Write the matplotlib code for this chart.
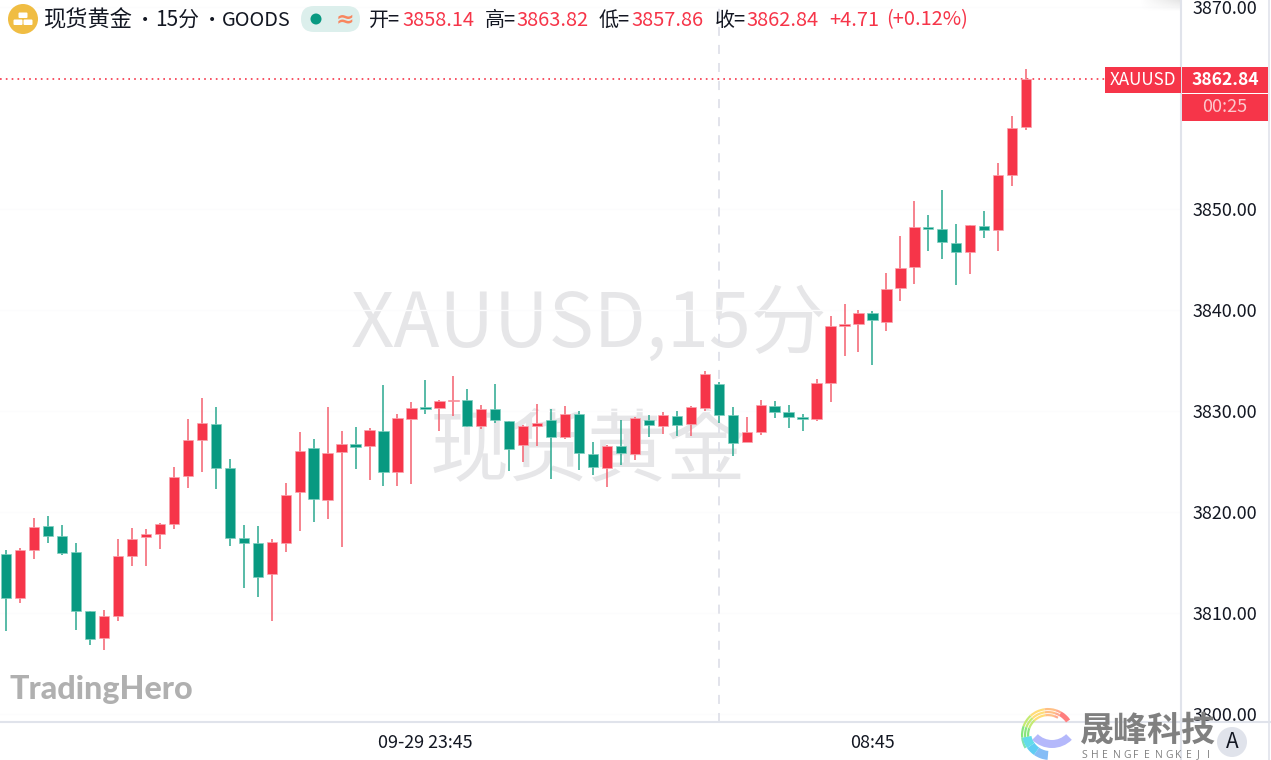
import matplotlib
matplotlib.use("Agg")
import matplotlib.pyplot as plt
import numpy as np
from matplotlib.patches import Circle, FancyBboxPatch, Rectangle, Wedge

W, H = 1271, 760
CJK = ["Noto Sans CJK SC", "DejaVu Sans"]
UP = "#f63549"
DOWN = "#089981"
UP_WICK = "#f4606f"
DOWN_WICK = "#2aa88f"
LINE = "#e0e3eb"
INK = "#131722"

open_ = [3815.81, 3811.45, 3816.27, 3818.58, 3817.62, 3816.01, 3810.23, 3807.49, 3809.70, 3815.64,
         3817.49, 3817.79, 3818.81, 3823.53, 3827.16, 3828.75, 3824.32, 3817.39, 3816.90, 3813.83,
         3816.93, 3822.01, 3826.30, 3821.19, 3825.91, 3826.77, 3826.57, 3828.05, 3823.99, 3829.24,
         3830.43, 3830.26, 3831.02, 3831.09, 3828.52, 3830.20, 3829.04, 3826.67, 3828.55, 3829.08,
         3827.39, 3829.74, 3825.74, 3824.36, 3826.50, 3825.78, 3829.08, 3828.52, 3829.51, 3828.71,
         3830.30, 3832.64, 3829.64, 3826.90, 3827.89, 3830.46, 3829.87, 3829.40, 3829.17, 3832.80,
         3838.38, 3838.65, 3839.70, 3838.84, 3842.18, 3844.26, 3848.18, 3847.99, 3846.60, 3845.74,
         3848.35, 3847.92, 3853.34, 3858.14]
high = [3816.24, 3816.40, 3819.37, 3819.64, 3818.68, 3816.96, 3810.23, 3810.30, 3817.29, 3818.45,
        3818.28, 3818.88, 3824.42, 3829.18, 3831.25, 3830.43, 3825.28, 3818.75, 3818.65, 3817.29,
        3822.84, 3827.95, 3827.20, 3830.40, 3827.99, 3828.38, 3828.28, 3832.54, 3829.67, 3830.89,
        3833.07, 3831.09, 3833.43, 3832.15, 3830.56, 3832.71, 3829.04, 3828.58, 3830.66, 3830.17,
        3830.46, 3830.03, 3826.90, 3826.67, 3829.11, 3829.37, 3829.60, 3829.87, 3830.00, 3830.46,
        3833.93, 3832.90, 3830.36, 3829.44, 3831.05, 3830.99, 3830.63, 3829.70, 3833.17, 3839.44,
        3840.59, 3839.97, 3839.87, 3843.63, 3847.36, 3850.76, 3849.37, 3851.85, 3848.48, 3848.38,
        3849.77, 3854.58, 3859.24, 3863.82]
low = [3808.25, 3811.02, 3815.31, 3816.90, 3815.71, 3808.32, 3806.80, 3806.34, 3809.24, 3814.69,
       3814.65, 3816.30, 3818.32, 3822.34, 3823.96, 3822.31, 3816.67, 3812.48, 3811.62, 3809.24,
       3816.07, 3818.15, 3819.01, 3819.31, 3816.54, 3824.29, 3823.17, 3822.61, 3822.57, 3822.81,
       3829.67, 3828.05, 3829.51, 3828.45, 3828.25, 3828.85, 3824.03, 3824.98, 3826.54, 3823.27,
       3827.26, 3824.16, 3823.66, 3822.51, 3824.62, 3825.18, 3827.43, 3827.76, 3827.56, 3827.56,
       3830.00, 3828.84, 3825.54, 3826.90, 3827.59, 3829.34, 3828.35, 3828.02, 3829.04, 3830.92,
       3835.48, 3835.84, 3834.59, 3837.95, 3840.92, 3842.61, 3845.81, 3845.02, 3842.51, 3843.56,
       3847.16, 3845.81, 3852.28, 3857.86]
close = [3811.45, 3816.21, 3818.55, 3817.62, 3815.97, 3810.23, 3807.43, 3809.70, 3815.61, 3817.36,
         3817.82, 3818.78, 3823.50, 3827.10, 3828.81, 3824.39, 3817.39, 3816.90, 3813.53, 3817.00,
         3821.68, 3826.04, 3821.29, 3825.81, 3826.73, 3826.44, 3828.09, 3823.96, 3829.27, 3830.33,
         3830.23, 3830.96, 3831.12, 3828.52, 3830.20, 3829.14, 3826.24, 3828.55, 3828.78, 3827.46,
         3829.70, 3825.84, 3824.42, 3826.54, 3825.81, 3829.27, 3828.65, 3829.60, 3828.65, 3830.36,
         3833.66, 3829.64, 3826.80, 3827.92, 3830.63, 3829.90, 3829.44, 3829.17, 3832.74, 3838.41,
         3838.58, 3839.67, 3838.98, 3842.11, 3844.12, 3848.18, 3848.02, 3846.76, 3845.74, 3848.38,
         3847.92, 3853.34, 3858.02, 3862.84]

price_ticks = [3800, 3810, 3820, 3830, 3840, 3850, 3870]
time_ticks = [30, 62]
time_labels = ["09-29 23:45", "08:45"]
cursor_bar = 51
last_price = 3862.84

fig = plt.figure(figsize=(W / 100, H / 100), dpi=100, facecolor="white")

# price pane, bar 0 sits 6.3px in and bars are 13.97px apart
ax = fig.add_axes([0, 38 / H, 1181 / W, 722 / H])
ax.set_xlim(-6.3 / 13.97, (1181 - 6.3) / 13.97)
ax.set_ylim(3800 - 8 / 10.1, 3800 + 714 / 10.1)
ax.patch.set_alpha(0)
ax.set_zorder(2)

x = np.arange(len(close))
o = np.array(open_)
c = np.array(close)
up = c >= o
bottom = np.minimum(o, c)
height = np.abs(c - o)

ax.grid(True, axis="y", color="#fcfcfd", linewidth=1)
ax.set_axisbelow(True)

ax.vlines(x, low, high, colors=[UP_WICK if u else DOWN_WICK for u in up], linewidth=1.1, zorder=3)
ax.bar(x, height, bottom=bottom, width=0.74, color=[UP if u else DOWN for u in up],
       edgecolor=["#f9a3ad" if u else "#7fcfbf" for u in up], linewidth=0.5, zorder=4)

ax.axhline(last_price, xmax=1105 / 1181, color=UP, linewidth=1.2, linestyle=(0, (1, 2.5)), zorder=2)
ax.axvline(cursor_bar, color="#dfe1e9", linewidth=1.3, linestyle=(0, (5, 5)), zorder=2)

for side in ["top", "left"]:
    ax.spines[side].set_visible(False)
for side in ["right", "bottom"]:
    ax.spines[side].set_color(LINE)
    ax.spines[side].set_linewidth(1.5)

ax.yaxis.tick_right()
ax.set_yticks(price_ticks)
ax.set_yticklabels([f"{p:.2f}" for p in price_ticks])
ax.set_xticks(time_ticks)
ax.set_xticklabels(time_labels)
ax.tick_params(axis="y", length=0, pad=8, labelsize=12.9, labelcolor=INK)
ax.tick_params(axis="x", length=0, pad=9, labelsize=12.9, labelcolor=INK)
for lab in ax.get_xticklabels() + ax.get_yticklabels():
    lab.set_fontfamily(CJK)

# watermark behind the candles
bg = fig.add_axes([0, 0, 1, 1], facecolor="none")
bg.set_xlim(0, W)
bg.set_ylim(H, 0)
bg.axis("off")
bg.set_zorder(1)
bg.text(589, 325, "XAUUSD,15分", fontsize=54.5, color="#e6e6e8", family=CJK, ha="center", va="center")
bg.text(588, 452, "现货黄金", fontsize=57, color="#e6e6e8", family=CJK, ha="center", va="center")

# overlay in pixel coordinates for the header, price tags and logos
ov = fig.add_axes([0, 0, 1, 1], facecolor="none")
ov.set_xlim(0, W)
ov.set_ylim(H, 0)
ov.axis("off")
ov.set_zorder(3)

# soft shadow in the top corner left of the price scale
shadow = np.zeros((12, 40, 4))
shadow[..., :3] = 0.55
shadow[..., 3] = np.outer(np.linspace(0.22, 0, 12), np.linspace(0, 1, 40))
ov.imshow(shadow, extent=(1140, 1180, 12, 0), aspect="auto", zorder=0)
ov.set_xlim(0, W)
ov.set_ylim(H, 0)

# header
ov.add_patch(Circle((23, 19), 15, color="#f0bd43", lw=0))
for bx, by in [(18.5, 12.5), (13.5, 19.5), (23.5, 19.5)]:
    ov.add_patch(FancyBboxPatch((bx, by), 9, 5.5, boxstyle="round,pad=0,rounding_size=1", color="white", lw=0))
title_parts = [(43, "现货黄金", 16), (155, "15分", 15), (222, "GOODS", 14.4)]
for px, s, size in title_parts:
    ov.text(px, 20, s, fontsize=size, color=INK, family=CJK, va="center")
for px in [145, 212]:
    ov.text(px, 20, "•", fontsize=10, color=INK, family="DejaVu Sans", ha="center", va="center")
ov.add_patch(FancyBboxPatch((301, 6), 59, 26, boxstyle="round,pad=0,rounding_size=13", color="#dcefec", lw=0))
ov.add_patch(Circle((316, 19), 5.5, color=DOWN, lw=0))
ov.text(345, 19, "≈", fontsize=16, color="#f8865f", family="DejaVu Sans", ha="center", va="center", fontweight="bold")

header_parts = [
    (369, "开=", INK), (402, "3858.14", UP),
    (485, "高=", INK), (516, "3863.82", UP),
    (599, "低=", INK), (631, "3857.86", UP),
    (715, "收=", INK), (746, "3862.84", UP),
    (829, "+4.71", UP), (886, "(+0.12%)", UP),
]
for px, s, col in header_parts:
    ov.text(px, 20, s, fontsize=14.4, color=col, family=CJK, va="center")

# last price tags
ov.add_patch(Rectangle((1105, 67), 76, 26, color=UP, lw=0))
ov.add_patch(Rectangle((1182, 67), 86, 26, color=UP, lw=0))
ov.add_patch(Rectangle((1182, 94), 86, 27, color=UP, lw=0))
ov.text(1143, 80, "XAUUSD", fontsize=12.3, color="white", family=CJK, ha="center", va="center")
ov.text(1225, 80, "3862.84", fontsize=12.6, color="white", family=CJK, ha="center", va="center", fontweight="bold")
ov.text(1225, 107, "00:25", fontsize=13, color="#fcc8cd", family=CJK, ha="center", va="center")

# pane borders below and right of the price scale
ov.plot([1181, 1181], [722, 760], color=LINE, lw=1.5)
ov.plot([1181, 1271], [722, 722], color=LINE, lw=1.5)
ov.plot([1268.5, 1268.5], [0, 760], color=LINE, lw=1.2)
ov.add_patch(Circle((1232, 742), 15, color=LINE, lw=0))
ov.text(1232, 742, "A", fontsize=15, color=INK, family=CJK, ha="center", va="center")

# TradingHero mark
ov.text(10, 689, "TradingHero", fontsize=23.2, color="#b0b0b0", family="Lato", fontweight=900, va="center")

# 晟峰科技 logo
ring = [(150, 175, "#7fe3b0"), (175, 200, "#86e57c"), (200, 228, "#c4ea72"), (228, 262, "#ffdc78"),
        (262, 288, "#ffbf85"), (288, 300, "#ffa98c")]
for r in [27, 24, 21]:
    for t1, t2, col in ring:
        ov.add_patch(Wedge((1048, 735), r, t1, t2, width=2.2, color=col, lw=0))
ov.add_patch(Wedge((1048, 735), 27, 300, 325, width=5, color="#ff7e7e", lw=0))
for t1, t2, col in [(95, 125, "#86bdf6"), (125, 145, "#60cdf3"), (145, 168, "#62dcea")]:
    ov.add_patch(Wedge((1050, 732), 28, t1, t2, width=9, color=col, lw=0))
ov.add_patch(Wedge((1052, 720), 28, 45, 135, width=8, color="#b4b8fb", lw=0))
ov.text(1080, 730, "晟峰科技", fontsize=24.5, color="#808080", family=CJK, fontweight="bold", va="center")
for lx, ch in zip(np.linspace(1081, 1207, 13), "SHENGFENGKEJI"):
    ov.text(lx, 755, ch, fontsize=7.5, color="#808080", family="Open Sans", va="center")

fig.savefig("out.png", dpi=100)
